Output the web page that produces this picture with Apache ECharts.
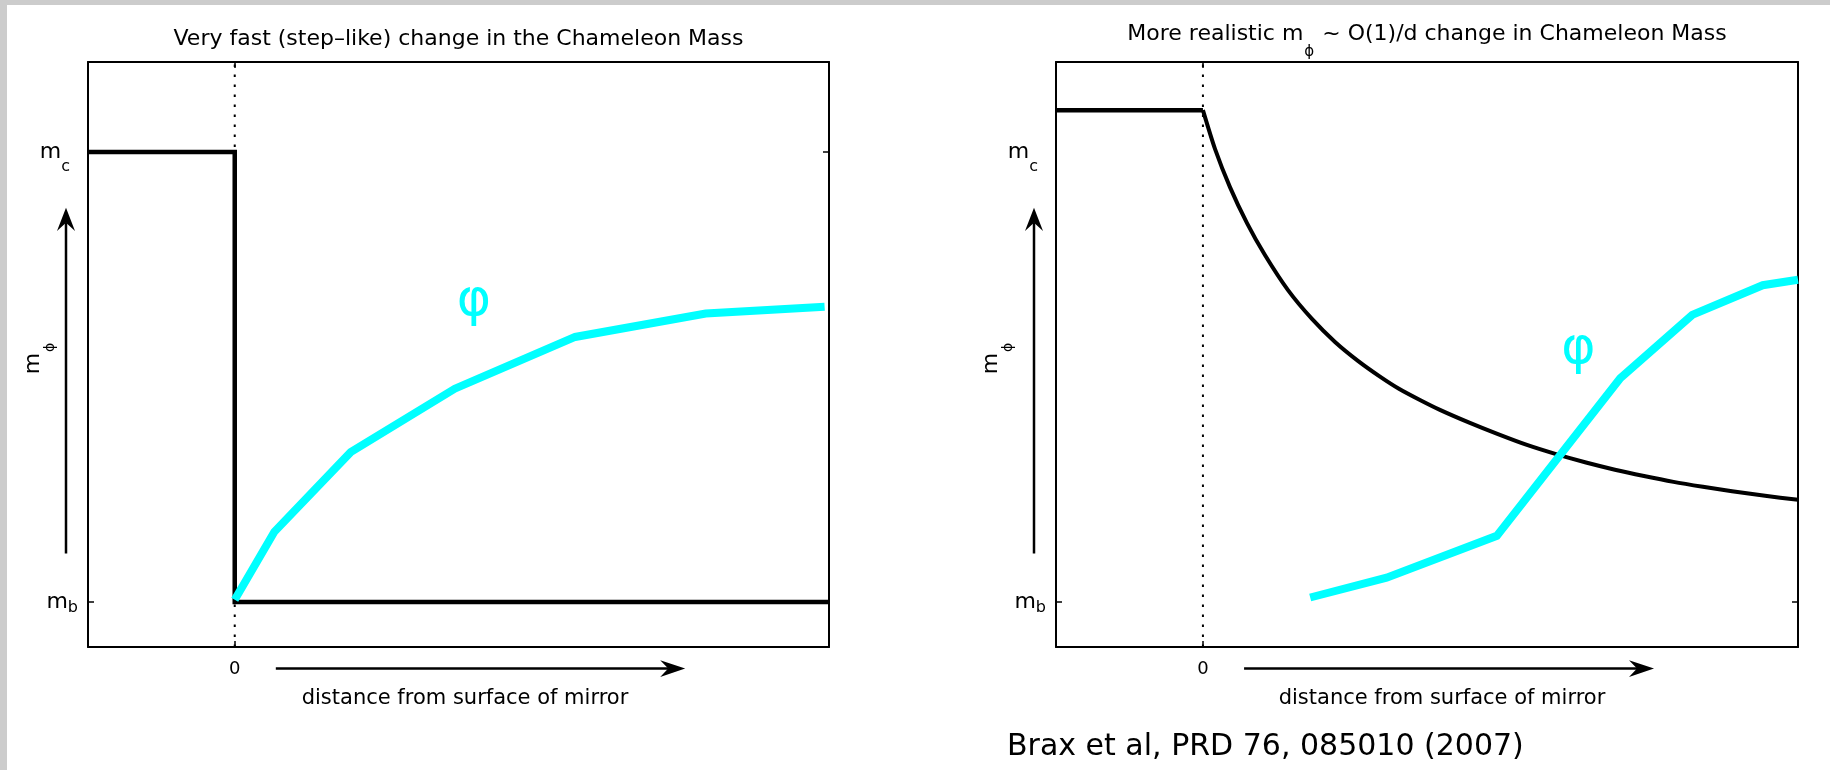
<!DOCTYPE html>
<html>
<head>
<meta charset="utf-8">
<script src="https://cdn.jsdelivr.net/npm/echarts@6/dist/echarts.min.js"></script>
<style>
html, body { margin: 0; padding: 0; background: #fff; }
#chart { width: 1830px; height: 770px; }
</style>
</head>
<body>
<div id="chart"></div>
<script>
// Distance from the mirror surface (arbitrary units, 0 = surface) against the
// chameleon mass, scaled so that m_b = 0 and m_c = 1.
const stepMass = [[-1, 1], [0, 1], [0, 0], [4.05, 0]];
const stepField = [[0, 0.005], [0.27, 0.156], [0.79, 0.333], [1.5, 0.474], [2.32, 0.589], [3.21, 0.641], [4.02, 0.656]];
const realMassInside = [[-1, 1.093], [0, 1.093]];
const realMassOutside = [[0, 1.093], [0.082, 1.007], [0.184, 0.922], [0.3, 0.842], [0.422, 0.771], [0.579, 0.693],
  [0.742, 0.629], [0.899, 0.578], [1.055, 0.536], [1.205, 0.501], [1.334, 0.474], [1.477, 0.449],
  [1.613, 0.427], [1.817, 0.398], [2.008, 0.373], [2.205, 0.349], [2.409, 0.328], [2.607, 0.31],
  [2.804, 0.294], [3.002, 0.28], [3.203, 0.267], [3.403, 0.256], [3.601, 0.246], [3.826, 0.236], [4.05, 0.227]];
const realField = [[0.73, 0.01], [1.25, 0.054], [2.0, 0.147], [2.84, 0.497], [3.33, 0.638], [3.81, 0.704], [4.05, 0.716]];
const surfaceLine = [[0, -0.1], [0, 1.2]];

const massTicks = [0, 1];
const massTickSubs = ['b', 'c'];
const distTicks = [0];
const distTickLabels = ['0'];

const panelTitles = [
  'Very fast (step\u2013like) change in the Chameleon Mass',
  '{t|More realistic m}{s|\u03d5}{t| ~ O(1)/d change in Chameleon Mass}'
];
const caption = 'Brax et al, PRD 76, 085010 (2007)';
const fieldSymbol = '\u03c6';
const fieldLabelAt = [[1.63, 0.655], [2.555, 0.548]];

const FONT = 'DejaVu Sans';
const INK = '#000';
const CYAN = '#00ffff';
const X_MIN = -1, X_MAX = 4.05, Y_MIN = -0.1, Y_MAX = 1.2;

const grids = [
  { left: 88, top: 62, width: 741, height: 585 },
  { left: 1056, top: 62, width: 742, height: 585 }
];
const xNamePad = [13, 30];
const yNameGap = [44, 54];
const leftTickValues = [[0, 1], [0]];

const tickLabelRich = {
  mc: { fontFamily: FONT, fontSize: 22, lineHeight: 22, verticalAlign: 'top', color: INK },
  c:  { fontFamily: FONT, fontSize: 16, lineHeight: 16, verticalAlign: 'top', color: INK, padding: [17.5, 8, 0, 0] },
  mb: { fontFamily: FONT, fontSize: 22, lineHeight: 22, verticalAlign: 'top', color: INK, padding: [0, 0, 26.6, 0] },
  b:  { fontFamily: FONT, fontSize: 16, lineHeight: 16, verticalAlign: 'top', color: INK, padding: [9.1, 0, 0, 0] }
};

const xAxes = [], yAxes = [];
grids.forEach((g, i) => {
  const tickStyle = { color: INK, width: 1.5 };
  const lineStyle = { color: INK, width: 2 };
  xAxes.push({
    gridIndex: i, type: 'value', position: 'bottom', min: X_MIN, max: X_MAX,
    axisLine: { show: true, onZero: false, lineStyle },
    axisTick: { show: true, inside: true, length: 6, customValues: distTicks, lineStyle: tickStyle },
    axisLabel: {
      show: true, customValues: distTicks, margin: 13,
      formatter: v => distTickLabels[distTicks.indexOf(v)],
      color: INK, fontFamily: FONT, fontSize: 18
    },
    splitLine: { show: false },
    name: 'distance from surface of mirror', nameLocation: 'middle', nameGap: 41.5, nameMoveOverlap: false,
    nameTextStyle: { color: INK, fontFamily: FONT, fontSize: 21, padding: [0, 0, 0, xNamePad[i]] }
  });
  xAxes.push({
    gridIndex: i, type: 'value', position: 'top', min: X_MIN, max: X_MAX,
    axisLine: { show: true, onZero: false, lineStyle },
    axisTick: { show: true, inside: true, length: 6, customValues: distTicks, lineStyle: tickStyle },
    axisLabel: { show: false },
    splitLine: { show: false }
  });
  yAxes.push({
    gridIndex: i, type: 'value', position: 'left', min: Y_MIN, max: Y_MAX,
    axisLine: { show: true, onZero: false, lineStyle },
    axisTick: { show: true, inside: true, length: 6, customValues: leftTickValues[i], lineStyle: tickStyle },
    axisLabel: {
      show: true, customValues: massTicks, margin: 10,
      formatter: v => {
        const s = massTickSubs[massTicks.indexOf(v)];
        return '{m' + s + '|m}{' + s + '|' + s + '}';
      },
      rich: tickLabelRich
    },
    splitLine: { show: false },
    name: '{m|m}{s|\u03d5}', nameLocation: 'middle', nameRotate: 90, nameGap: yNameGap[i], nameMoveOverlap: false,
    nameTextStyle: {
      padding: [0, 8, 0, 0],
      rich: {
        m: { fontFamily: FONT, fontSize: 22, lineHeight: 22, verticalAlign: 'top', color: INK },
        s: { fontFamily: FONT, fontSize: 14, lineHeight: 14, verticalAlign: 'top', color: INK, padding: [21, 0, 0, 1] }
      }
    }
  });
  yAxes.push({
    gridIndex: i, type: 'value', position: 'right', min: Y_MIN, max: Y_MAX,
    axisLine: { show: true, onZero: false, lineStyle },
    axisTick: { show: true, inside: true, length: 6, customValues: leftTickValues[i], lineStyle: tickStyle },
    axisLabel: { show: false },
    splitLine: { show: false }
  });
});

function lineSeries(name, grid, data, color, width, extra) {
  return Object.assign({
    name, type: 'line', xAxisIndex: grid * 2, yAxisIndex: grid * 2, data,
    showSymbol: false, symbol: 'none', silent: true, animation: false,
    lineStyle: { color, width, join: 'miter', cap: 'butt' }
  }, extra || {});
}

const surfaceStyle = { color: INK, width: 2, type: [2.5, 7.5], cap: 'butt' };

const option = {
  backgroundColor: '#fff',
  animation: false,
  title: [
    {
      text: panelTitles[0], left: grids[0].left + grids[0].width / 2, top: 28, padding: 0,
      textAlign: 'center', textVerticalAlign: 'top',
      textStyle: { fontFamily: FONT, fontSize: 22, fontWeight: 'normal', color: INK }
    },
    {
      text: panelTitles[1], left: grids[1].left + grids[1].width / 2, top: 23.7, padding: 0,
      textAlign: 'center', textVerticalAlign: 'top',
      textStyle: {
        fontFamily: FONT, fontSize: 22, fontWeight: 'normal', color: INK,
        rich: {
          t: { fontFamily: FONT, fontSize: 22, lineHeight: 22, verticalAlign: 'top', color: INK },
          s: { fontFamily: FONT, fontSize: 15, lineHeight: 15, verticalAlign: 'top', color: INK, padding: [21, 1, 0, 1] }
        }
      }
    },
    {
      text: caption, left: 1007, top: 732.6, padding: 0,
      textStyle: { fontFamily: FONT, fontSize: 30, fontWeight: 'normal', color: INK }
    }
  ],
  grid: grids.map(g => Object.assign({ containLabel: false, show: false }, g)),
  xAxis: xAxes,
  yAxis: yAxes,
  series: [
    lineSeries('surface', 0, surfaceLine, INK, 2, { lineStyle: surfaceStyle }),
    lineSeries('m\u03d5 (step)', 0, stepMass, INK, 4.5),
    lineSeries('\u03c6 (step)', 0, stepField, CYAN, 8),
    lineSeries('surface', 1, surfaceLine, INK, 2, { lineStyle: surfaceStyle }),
    lineSeries('m\u03d5 inside', 1, realMassInside, INK, 4.5),
    lineSeries('m\u03d5 outside', 1, realMassOutside, INK, 4, { smooth: 0.25 }),
    lineSeries('\u03c6 (realistic)', 1, realField, CYAN, 8)
  ]
};

const chart = echarts.init(document.getElementById('chart'), null, { renderer: 'canvas' });
chart.setOption(option);

// Arrows beside the axes, the field labels and the thin grey frame edges.
const graphics = [
  { type: 'rect', shape: { x: 0, y: 0, width: 1830, height: 5 }, style: { fill: '#cccccc' }, silent: true },
  { type: 'rect', shape: { x: 0, y: 0, width: 7, height: 770 }, style: { fill: '#cccccc' }, silent: true }
];
grids.forEach((g, i) => {
  const toPx = pt => chart.convertToPixel({ xAxisIndex: i * 2, yAxisIndex: i * 2 }, pt);
  const leftEdge = toPx([X_MIN, 0])[0];
  const bottomEdge = toPx([0, Y_MIN])[1];

  // vertical arrow: mass increases upwards
  const ax = leftEdge - 22;
  const yLow = toPx([0, 0.108])[1];
  const yTip = toPx([0, 0.876])[1];
  graphics.push({ type: 'line', shape: { x1: ax, y1: yLow, x2: ax, y2: yTip + 15 }, style: { stroke: INK, lineWidth: 2.5 }, silent: true });
  graphics.push({ type: 'polygon', shape: { points: [[ax, yTip], [ax - 9, yTip + 23.3], [ax, yTip + 15], [ax + 9, yTip + 23.3]] }, style: { fill: INK }, silent: true });

  // horizontal arrow: distance increases to the right
  const ay = bottomEdge + 21.6;
  const xStart = toPx([0.28, 0])[0];
  const xTip = toPx([3.07, 0])[0];
  graphics.push({ type: 'line', shape: { x1: xStart, y1: ay, x2: xTip - 17, y2: ay }, style: { stroke: INK, lineWidth: 2.5 }, silent: true });
  graphics.push({ type: 'polygon', shape: { points: [[xTip, ay], [xTip - 25, ay - 8.3], [xTip - 17, ay], [xTip - 25, ay + 8.3]] }, style: { fill: INK }, silent: true });

  // field label
  const lp = toPx(fieldLabelAt[i]);
  graphics.push({
    type: 'text', x: lp[0], y: lp[1] - 6, silent: true,
    style: { text: fieldSymbol, fill: CYAN, fontFamily: FONT, fontSize: 52, align: 'center', verticalAlign: 'middle' }
  });
});
chart.setOption({ graphic: graphics });
</script>
</body>
</html>
